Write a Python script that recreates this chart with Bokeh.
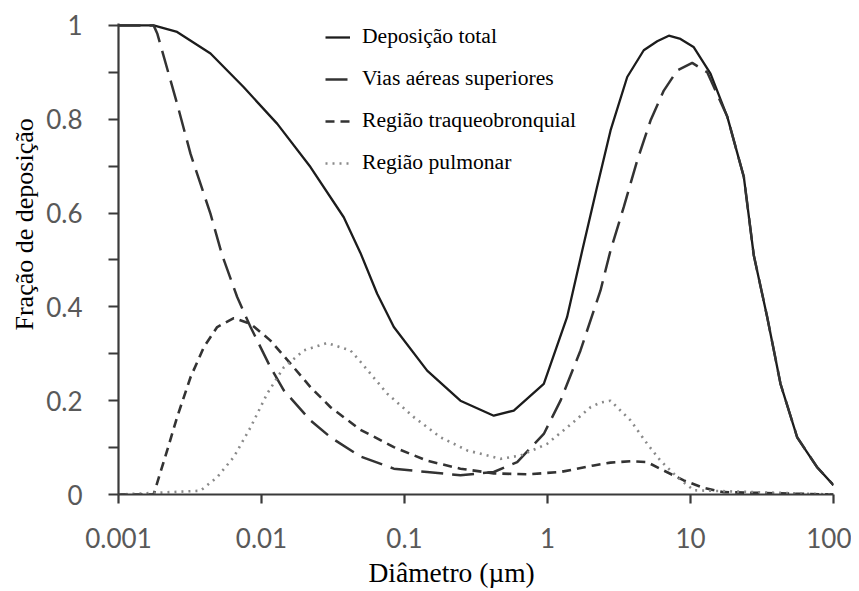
from bokeh.plotting import figure
from bokeh.models import (Range1d, FixedTicker, CustomJSTickFormatter, Title, Legend)
from bokeh.embed import file_html
from bokeh.resources import INLINE

# ---- data (diameter in µm, deposition fraction) ----
d_total = [0.001, 0.00176, 0.00257, 0.0044, 0.00752, 0.0129, 0.022, 0.0376, 0.0492,
           0.0644, 0.0842, 0.144, 0.246, 0.421, 0.581, 0.942, 1.37, 1.75, 2.2, 2.76,
           3.61, 4.71, 5.85, 7.05, 8.51, 10.5, 13.8, 18.1, 23.6, 27.7, 34.4, 42.6,
           55.7, 76.9, 100]
y_total = [1.0, 1.0, 0.986, 0.94, 0.868, 0.79, 0.698, 0.591, 0.515,
           0.428, 0.357, 0.264, 0.200, 0.168, 0.179, 0.236, 0.378, 0.52, 0.65, 0.776,
           0.890, 0.947, 0.966, 0.978, 0.971, 0.954, 0.897, 0.805, 0.677, 0.51, 0.378,
           0.236, 0.122, 0.058, 0.02]

d_vias = [0.001, 0.00176, 0.00187, 0.00257, 0.00319, 0.0044, 0.00531, 0.00676, 0.00838,
          0.01156, 0.01432, 0.022, 0.0304, 0.0492, 0.0842, 0.144, 0.246, 0.421, 0.614,
          0.942, 1.233, 1.701, 2.348, 2.758, 3.417, 4.24, 5.253, 6.506, 8.072, 10.28,
          13.09, 18.1, 23.6, 27.7, 34.4, 42.6, 55.7, 76.9, 100]
y_vias = [1.0, 1.0, 0.982, 0.833, 0.726, 0.598, 0.510, 0.421, 0.357,
          0.271, 0.222, 0.158, 0.122, 0.081, 0.055, 0.048, 0.041, 0.048, 0.069,
          0.129, 0.2, 0.307, 0.435, 0.52, 0.613, 0.712, 0.797, 0.861, 0.904, 0.920,
          0.900, 0.805, 0.677, 0.51, 0.378, 0.236, 0.122, 0.058, 0.02]

d_tb = [0.001, 0.00176, 0.00219, 0.00257, 0.00319, 0.00395, 0.0049, 0.0064, 0.00838,
        0.01156, 0.01595, 0.022, 0.0304, 0.0492, 0.0842, 0.144, 0.246, 0.421, 0.721,
        1.233, 2.108, 2.758, 3.806, 4.98, 6.506, 8.977, 12.39, 17.1, 100]
y_tb = [0.0, 0.0, 0.094, 0.165, 0.250, 0.314, 0.357, 0.376, 0.364,
        0.328, 0.279, 0.229, 0.186, 0.138, 0.101, 0.072, 0.055, 0.045, 0.043,
        0.048, 0.062, 0.068, 0.071, 0.069, 0.051, 0.030, 0.014, 0.005, 0.0]

d_pu = [0.001, 0.00374, 0.0049, 0.0064, 0.00838, 0.01096, 0.01432, 0.01976, 0.0288,
        0.0419, 0.0492, 0.0757, 0.1161, 0.1785, 0.2745, 0.469, 0.6476, 0.9952, 1.527,
        1.998, 2.348, 2.758, 3.806, 4.98, 6.169, 8.072, 10.55, 100]
y_pu = [0.0, 0.008, 0.037, 0.080, 0.143, 0.215, 0.271, 0.307, 0.323,
        0.307, 0.283, 0.215, 0.165, 0.122, 0.094, 0.076, 0.083, 0.108, 0.155,
        0.186, 0.196, 0.200, 0.158, 0.108, 0.072, 0.037, 0.009, 0.0]

labels = ["Deposição total", "Vias aéreas superiores",
          "Região traqueobronquial", "Região pulmonar"]
x_ticks = [0.001, 0.01, 0.1, 1, 10, 100]
y_ticks = [0, 0.2, 0.4, 0.6, 0.8, 1]
y_minor = [0.1, 0.3, 0.5, 0.7, 0.9]
x_title = "Diâmetro (µm)"
y_title = "Fração de deposição"

SERIF = "Liberation Serif"

p = figure(width=851, height=591, x_axis_type="log",
           x_range=Range1d(0.001, 100), y_range=Range1d(0, 1.004),
           output_backend="svg", toolbar_location=None,
           min_border_left=118, min_border_right=18,
           min_border_top=23, min_border_bottom=97)
p.title.visible = False
p.outline_line_color = None
p.grid.visible = False
p.background_fill_color = "white"
p.border_fill_color = "white"

r_total = p.line(d_total, y_total, line_color="#1c1c1c", line_width=2.3)
r_vias = p.line(d_vias, y_vias, line_color="#333333", line_width=2.5, line_dash="22 9")
r_tb = p.line(d_tb, y_tb, line_color="#333333", line_width=2.6, line_dash="9 6")
r_pu = p.line(d_pu, y_pu, line_color="#8a8a8a", line_width=2.6, line_dash="2 5")

legend = Legend(items=[(labels[0], [r_total]), (labels[1], [r_vias]),
                       (labels[2], [r_tb]), (labels[3], [r_pu])],
                location=(207, 319))
legend.border_line_color = None
legend.background_fill_alpha = 0
legend.margin = 0
legend.padding = 0
legend.glyph_width = 25
legend.glyph_height = 20
legend.label_height = 25
legend.spacing = 17
legend.label_standoff = 12
legend.label_text_font = SERIF
legend.label_text_font_size = "21.6px"
legend.label_text_color = "black"
p.add_layout(legend, "center")

fmt = CustomJSTickFormatter(code="return String(parseFloat(tick.toFixed(4)));")

xa = p.xaxis[0]
xa.ticker = FixedTicker(ticks=x_ticks, minor_ticks=[])
xa.formatter = fmt
ya = p.yaxis[0]
ya.ticker = FixedTicker(ticks=y_ticks, minor_ticks=y_minor)
ya.formatter = fmt

for ax in (xa, ya):
    ax.axis_line_color = "#3a3a3a"
    ax.axis_line_width = 2.2
    ax.major_tick_line_color = "#3a3a3a"
    ax.major_tick_line_width = 2.2
    ax.minor_tick_line_color = "#3a3a3a"
    ax.minor_tick_line_width = 2.2
    ax.major_tick_in = 0
    ax.minor_tick_in = 0
    ax.major_label_text_font = "Lato"
    ax.major_label_text_font_size = "26px"
    ax.major_label_text_color = "#595959"
xa.major_tick_out = 9
xa.minor_tick_out = 0
xa.major_label_standoff = 24
ya.major_tick_out = 10
ya.minor_tick_out = 10
ya.major_label_standoff = 26

# axis titles as side titles, so that they can be shifted along the axis
t_y = Title(text=y_title, align="left", offset=164, standoff=10,
            text_font=SERIF, text_font_size="26px", text_font_style="normal",
            text_color="black")
p.add_layout(t_y, "left")
t_x = Title(text=x_title, align="left", offset=250, standoff=8,
            text_font=SERIF, text_font_size="27.5px", text_font_style="normal",
            text_color="black")
p.add_layout(t_x, "below")

open("out.html", "w").write(file_html(p, INLINE))
